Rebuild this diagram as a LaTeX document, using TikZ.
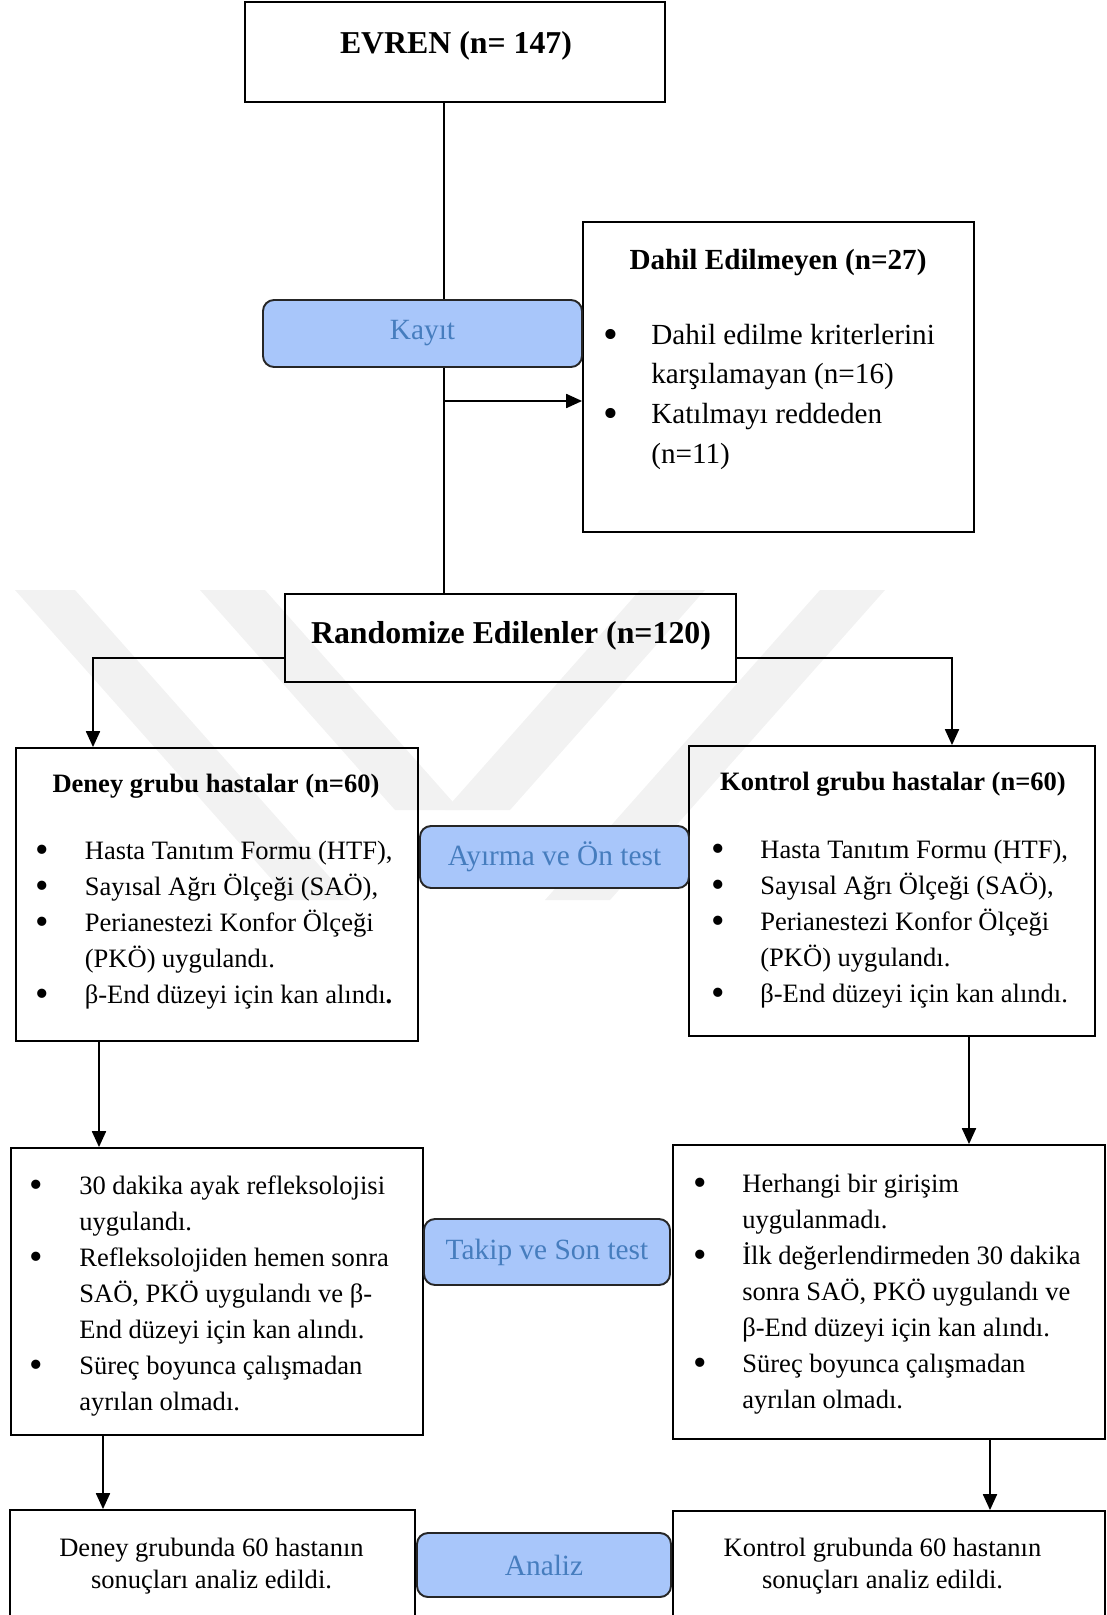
\documentclass[tikz,border=0pt]{standalone}
\usepackage{fontspec}
\setmainfont{Liberation Serif}
\usetikzlibrary{arrows.meta}
\definecolor{cornflower}{RGB}{168, 198, 250}
\definecolor{steelblue}{RGB}{70, 125, 190}
\definecolor{mist}{RGB}{242, 242, 242}
\newlength{\bgap}
\newcommand{\blt}[1]{\par\noindent\hangindent=\bgap\hangafter=1\makebox[\bgap][l]{\makebox[0pt][c]{\raisebox{-0.14em}{\scalebox{1.45}{\textbullet}}}}#1}
\newcommand{\blist}[2]{\setlength{\bgap}{#1}\parbox[t]{9cm}{#2}}

\begin{document}
\begin{tikzpicture}[
    box/.style    = {draw, line width=1.1pt, inner sep=0pt},
    stage/.style  = {draw=black!85, fill=cornflower, text=steelblue, rounded corners=0.22cm, line width=1.1pt, inner sep=0pt, font=\fontsize{16.7}{20}\selectfont},
    head/.style   = {anchor=base, inner sep=0pt, font=\bfseries\fontsize{18.1}{22}\selectfont},
    group/.style  = {anchor=base, inner sep=0pt, font=\bfseries\fontsize{15.1}{18}\selectfont},
    items/.style  = {anchor=base west, inner sep=0pt, font=\fontsize{15.1}{20.5}\selectfont},
    result/.style = {align=center, inner sep=0pt, font=\fontsize{15.1}{18.2}\selectfont},
    link/.style   = {line width=0.85pt},
    flow/.style   = {link, -{Triangle[width=8pt,length=9pt]}}
  ]
  \useasboundingbox (0.00, 0.00) rectangle (22.14,-32.30);
  \clip             (0.00, 0.00) rectangle (22.14,-32.30);

  \fill[mist] ( 0.30,-11.80) -- ( 1.50,-11.80) -- ( 7.00,-18.00) -- ( 5.80,-18.00) -- cycle;
  \fill[mist] ( 4.00,-11.80) -- ( 5.30,-11.80) -- ( 9.20,-16.20) -- ( 7.90,-16.20) -- cycle;
  \fill[mist] (16.40,-11.80) -- (17.70,-11.80) -- (12.20,-18.00) -- (10.90,-18.00) -- cycle;
  \fill[mist] (12.80,-11.80) -- (14.10,-11.80) -- (10.20,-16.20) -- ( 8.90,-16.20) -- cycle;

  \node[box, minimum width=8.40cm, minimum height=2.00cm] (evren)    at ( 9.10, -1.04) {};
  \node[box, minimum width=7.82cm, minimum height=6.20cm] (dahil)    at (15.57, -7.54) {};
  \node[box, minimum width=9.02cm, minimum height=1.76cm] (rand)     at (10.21,-12.76) {};
  \node[box, minimum width=8.04cm, minimum height=5.86cm] (deney)    at ( 4.34,-17.89) {};
  \node[box, minimum width=8.12cm, minimum height=5.80cm] (kontrol)  at (17.84,-17.82) {};
  \node[box, minimum width=8.24cm, minimum height=5.74cm] (deneyb)   at ( 4.34,-25.83) {};
  \node[box, minimum width=8.64cm, minimum height=5.88cm] (kontrolb) at (17.78,-25.84) {};
  \node[box, minimum width=8.10cm, minimum height=3.00cm] (deneyc)   at ( 4.25,-31.70) {};
  \node[box, minimum width=8.64cm, minimum height=3.00cm] (kontrolc) at (17.78,-31.72) {};

  \coordinate (spine)  at ( 8.88,  0.00);
  \coordinate (split)  at ( 8.88, -8.02);
  \coordinate (dleft)  at ( 1.86,-13.16);
  \coordinate (dright) at (19.04,-13.16);
  \coordinate (dgo)    at ( 1.98,  0.00);
  \coordinate (kgo)    at (19.38,  0.00);
  \coordinate (dend)   at ( 2.06,  0.00);
  \coordinate (kend)   at (19.80,  0.00);

  \draw[link] (evren.south -| spine) -- (rand.north -| spine);
  \draw[flow] (split) -- (split -| dahil.west);
  \draw[flow] (rand.west |- dleft) -- (dleft) -- (dleft |- deney.north);
  \draw[flow] (rand.east |- dright) -- (dright) -- (dright |- kontrol.north);
  \draw[flow] (dgo |- deney.south) -- (dgo |- deneyb.north);
  \draw[flow] (kgo |- kontrol.south) -- (kgo |- kontrolb.north);
  \draw[flow] (dend |- deneyb.south) -- (dend |- deneyc.north);
  \draw[flow] (kend |- kontrolb.south) -- (kend |- kontrolc.north);

  \node[stage, minimum width=6.38cm, minimum height=1.34cm] (kayit)  at ( 8.45, -6.67) {Kayıt};
  \node[stage, minimum width=5.38cm, minimum height=1.24cm] (ayirma) at (11.09,-17.14) {Ayırma ve Ön test};
  \node[stage, minimum width=4.92cm, minimum height=1.32cm] (takip)  at (10.94,-25.04) {Takip ve Son test};
  \node[stage, minimum width=5.08cm, minimum height=1.28cm] (analiz) at (10.88,-31.30) {Analiz};

  \node[head] (evrentxt) at ( 9.12, -1.06) {EVREN (n= 147)};
  \node[head] (randtxt)  at (10.22,-12.86) {Randomize Edilenler (n=120)};
  \node[anchor=base, inner sep=0pt, font=\bfseries\fontsize{16.6}{20}\selectfont] (dahiltxt) at (15.56,-5.38) {Dahil Edilmeyen (n=27)};
  \node[items, font=\fontsize{16.6}{22.6}\selectfont] (dahillist) at (12.22,-6.88)
    {\blist{0.80cm}{\blt{Dahil edilme kriterlerini\\karşılamayan (n=16)}\blt{Katılmayı reddeden\\(n=11)}}};

  \node[group] (deneytxt)   at ( 4.32,-15.84) {Deney grubu hastalar (n=60)};
  \node[group] (kontroltxt) at (17.86,-15.80) {Kontrol grubu hastalar (n=60)};
  \node[items] (deneylist)  at ( 0.84,-17.18)
    {\blist{0.85cm}{\blt{Hasta Tanıtım Formu (HTF),}\blt{Sayısal Ağrı Ölçeği (SAÖ),}\blt{Perianestezi Konfor Ölçeği\\(PKÖ) uygulandı.}\blt{β-End düzeyi için kan alındı\textbf{.}}}};
  \node[items] (kontrollist) at (14.36,-17.16)
    {\blist{0.84cm}{\blt{Hasta Tanıtım Formu (HTF),}\blt{Sayısal Ağrı Ölçeği (SAÖ),}\blt{Perianestezi Konfor Ölçeği\\(PKÖ) uygulandı.}\blt{β-End düzeyi için kan alındı.}}};

  \node[items] (deneyblist) at ( 0.72,-23.88)
    {\blist{0.86cm}{\blt{30 dakika ayak refleksolojisi\\uygulandı.}\blt{Refleksolojiden hemen sonra\\SAÖ, PKÖ uygulandı ve β-\\End düzeyi için kan alındı.}\blt{Süreç boyunca çalışmadan\\ayrılan olmadı.}}};
  \node[items] (kontrolblist) at (14.00,-23.84)
    {\blist{0.84cm}{\blt{Herhangi bir girişim\\uygulanmadı.}\blt{İlk değerlendirmeden 30 dakika\\sonra SAÖ, PKÖ uygulandı ve\\β-End düzeyi için kan alındı.}\blt{Süreç boyunca çalışmadan\\ayrılan olmadı.}}};

  \node[result] (deneyctxt)   at ( 4.23,-31.32) {Deney grubunda 60 hastanın\\sonuçları analiz edildi.};
  \node[result] (kontrolctxt) at (17.65,-31.32) {Kontrol grubunda 60 hastanın\\sonuçları analiz edildi.};
\end{tikzpicture}
\end{document}
